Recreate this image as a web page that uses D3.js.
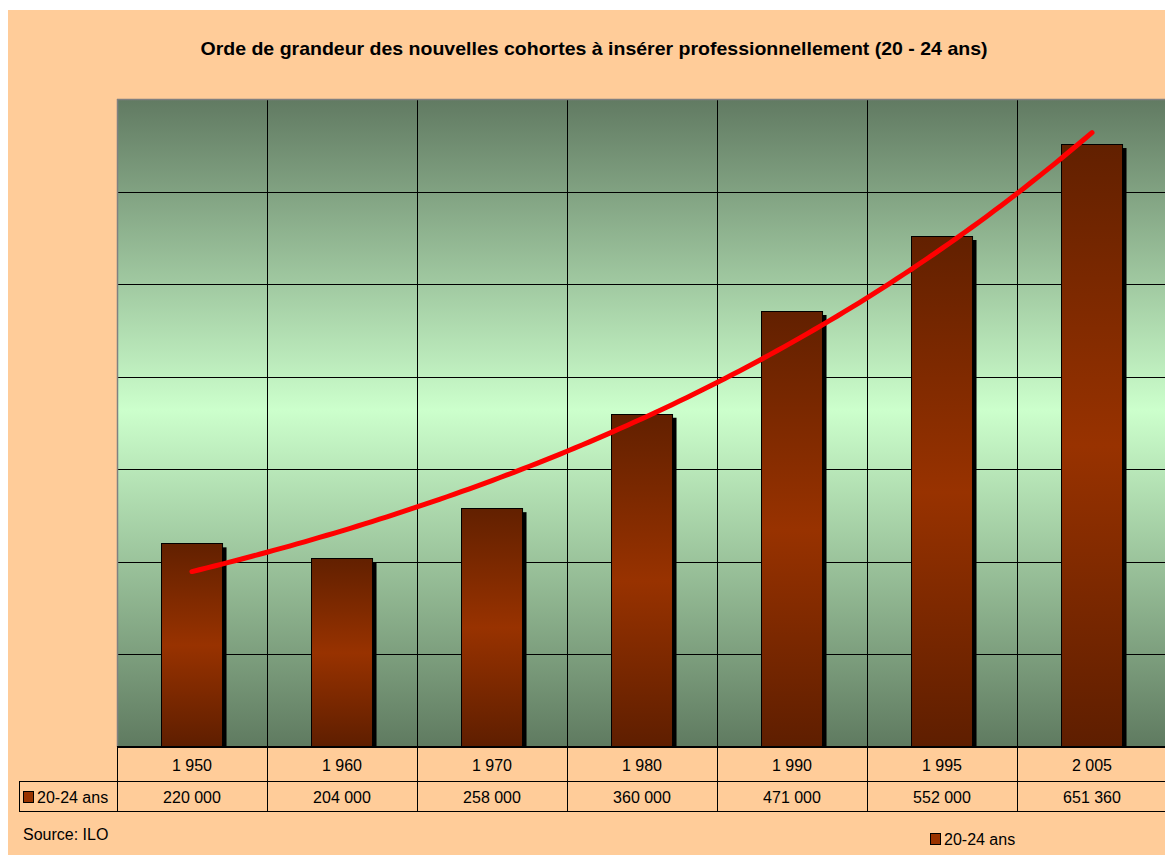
<!DOCTYPE html>
<html>
<head>
<meta charset="utf-8">
<script src="https://cdn.jsdelivr.net/npm/d3@7.9.0/dist/d3.min.js"></script>
<style>
  body { margin: 0; background: #fff; }
  svg { display: block; font-family: "Liberation Sans", Arial, sans-serif; }
</style>
</head>
<body>
<svg id="chart" width="1165" height="855"></svg>
<script>
const title = 'Orde de grandeur des nouvelles cohortes à insérer professionnellement (20 - 24 ans)';
const seriesName = '20-24 ans';
const years = ['1 950', '1 960', '1 970', '1 980', '1 990', '1 995', '2 005'];
const values = [220000, 204000, 258000, 360000, 471000, 552000, 651360];
const yTicks = [0, 100000, 200000, 300000, 400000, 500000, 600000, 700000];

const svg = d3.select('#chart');
const plot = { left: 117, top: 99, right: 1167, bottom: 747 };
const fmt = d3.formatLocale({ decimal: ',', thousands: ' ', grouping: [3], currency: ['', ''] }).format(',d');

// background
svg.append('rect').attr('x', 8).attr('y', 10).attr('width', 1157).attr('height', 845).attr('fill', '#ffcc99');

const defs = svg.append('defs');
const bg = defs.append('linearGradient').attr('id', 'bg').attr('x1', 0).attr('y1', 0).attr('x2', 0).attr('y2', 1);
bg.append('stop').attr('offset', '0%').attr('stop-color', '#617a62');
bg.append('stop').attr('offset', '48%').attr('stop-color', '#ccffcc');
bg.append('stop').attr('offset', '100%').attr('stop-color', '#5f7a60');

const barGrad = defs.append('linearGradient').attr('id', 'bar').attr('x1', 0).attr('y1', 0).attr('x2', 0).attr('y2', 1);
barGrad.append('stop').attr('offset', '0%').attr('stop-color', '#622000');
barGrad.append('stop').attr('offset', '50%').attr('stop-color', '#983200');
barGrad.append('stop').attr('offset', '100%').attr('stop-color', '#5e1e00');

defs.append('clipPath').attr('id', 'clip')
  .append('rect').attr('x', plot.left).attr('y', plot.top)
  .attr('width', plot.right - plot.left).attr('height', plot.bottom - plot.top);

const x = d3.scaleBand().domain(years).range([plot.left, plot.right])
  .paddingInner(0.593).paddingOuter(0.2965);
const y = d3.scaleLinear().domain([0, 700000]).range([plot.bottom, plot.top]);
const step = x.step();

// plot area
svg.append('rect').attr('x', plot.left).attr('y', plot.top)
  .attr('width', plot.right - plot.left).attr('height', plot.bottom - plot.top)
  .attr('fill', 'url(#bg)');

const g = svg.append('g').attr('clip-path', 'url(#clip)');

// gridlines
g.selectAll('.hgrid').data(yTicks.slice(1)).join('line')
  .attr('x1', plot.left).attr('x2', plot.right)
  .attr('y1', d => Math.round(y(d)) + 0.5).attr('y2', d => Math.round(y(d)) + 0.5)
  .attr('stroke', '#000').attr('stroke-width', 1);
g.selectAll('.vgrid').data(years.slice(1)).join('line')
  .attr('x1', d => Math.round(x(d) - step * 0.2965) + 0.5)
  .attr('x2', d => Math.round(x(d) - step * 0.2965) + 0.5)
  .attr('y1', plot.top).attr('y2', plot.bottom)
  .attr('stroke', '#000').attr('stroke-width', 1);

// bar shadows
g.selectAll('.shadow').data(values).join('rect')
  .attr('x', (d, i) => x(years[i]) + 4)
  .attr('y', d => y(d) + 4)
  .attr('width', x.bandwidth())
  .attr('height', d => plot.bottom - y(d))
  .attr('fill', '#000');

// bars
g.selectAll('.bar').data(values).join('rect')
  .attr('x', (d, i) => Math.round(x(years[i])) + 0.5)
  .attr('y', d => Math.round(y(d)) + 0.5)
  .attr('width', x.bandwidth())
  .attr('height', d => plot.bottom - y(d))
  .attr('fill', 'url(#bar)')
  .attr('stroke', '#000').attr('stroke-width', 1);

// exponential trendline (least squares on ln values, x = 1..n)
const n = values.length;
const xs = d3.range(1, n + 1);
const lv = values.map(Math.log);
const mx = d3.mean(xs), my = d3.mean(lv);
const b = d3.sum(xs, (v, i) => (v - mx) * (lv[i] - my)) / d3.sum(xs, v => (v - mx) ** 2);
const a = my - b * mx;
const xi = d3.scaleLinear().domain([1, n]).range([x(years[0]) + x.bandwidth() / 2, x(years[n - 1]) + x.bandwidth() / 2]);
const trend = d3.range(1, n + 0.001, 0.05).map(t => [xi(t), y(Math.exp(a + b * t))]);
g.append('path').datum(trend)
  .attr('d', d3.line())
  .attr('fill', 'none').attr('stroke', '#ff0000').attr('stroke-width', 5)
  .attr('stroke-linecap', 'round');

// plot border (top/left grey)
svg.append('line').attr('x1', plot.left).attr('x2', plot.right).attr('y1', plot.top + 0.5).attr('y2', plot.top + 0.5)
  .attr('stroke', '#808080').attr('stroke-width', 1.5);
svg.append('line').attr('x1', plot.left + 0.5).attr('x2', plot.left + 0.5).attr('y1', plot.top).attr('y2', plot.bottom)
  .attr('stroke', '#808080').attr('stroke-width', 1.5);

// data table
const row1 = 781, row2 = 811;
const table = svg.append('g');
table.append('line').attr('x1', plot.left).attr('x2', plot.right).attr('y1', plot.bottom).attr('y2', plot.bottom)
  .attr('stroke', '#000').attr('stroke-width', 2);
table.append('line').attr('x1', 19).attr('x2', plot.right).attr('y1', row1 + 0.5).attr('y2', row1 + 0.5)
  .attr('stroke', '#000').attr('stroke-width', 1);
table.append('line').attr('x1', 19).attr('x2', plot.right).attr('y1', row2 + 0.5).attr('y2', row2 + 0.5)
  .attr('stroke', '#000').attr('stroke-width', 1);
table.append('line').attr('x1', 19.5).attr('x2', 19.5).attr('y1', row1).attr('y2', row2)
  .attr('stroke', '#000').attr('stroke-width', 1);
table.selectAll('.tv').data(years).join('line')
  .attr('x1', d => Math.round(x(d) - step * 0.2965) + 0.5)
  .attr('x2', d => Math.round(x(d) - step * 0.2965) + 0.5)
  .attr('y1', plot.bottom).attr('y2', row2)
  .attr('stroke', '#000').attr('stroke-width', 1);

table.selectAll('.yr').data(years).join('text')
  .attr('x', d => x(d) + x.bandwidth() / 2).attr('y', 771)
  .attr('text-anchor', 'middle').attr('font-size', 16).attr('fill', '#000')
  .text(d => d);
table.selectAll('.val').data(values).join('text')
  .attr('x', (d, i) => x(years[i]) + x.bandwidth() / 2).attr('y', 803)
  .attr('text-anchor', 'middle').attr('font-size', 16).attr('fill', '#000')
  .text(d => fmt(d));

table.append('rect').attr('x', 23.5).attr('y', 791.5).attr('width', 10).attr('height', 11)
  .attr('fill', '#993300').attr('stroke', '#000').attr('stroke-width', 1);
table.append('text').attr('x', 37).attr('y', 803).attr('font-size', 16).text(seriesName);

// title
svg.append('text').attr('x', 594).attr('y', 55).attr('text-anchor', 'middle')
  .attr('font-size', 18.5).attr('font-weight', 'bold')
  .attr('textLength', 787).attr('lengthAdjust', 'spacingAndGlyphs')
  .text(title);

// source
svg.append('text').attr('x', 23).attr('y', 840).attr('font-size', 16).text('Source: ILO');

// legend
svg.append('rect').attr('x', 930.5).attr('y', 833.5).attr('width', 10).attr('height', 11)
  .attr('fill', '#993300').attr('stroke', '#000').attr('stroke-width', 1);
svg.append('text').attr('x', 944).attr('y', 845).attr('font-size', 16).text(seriesName);
</script>
</body>
</html>
